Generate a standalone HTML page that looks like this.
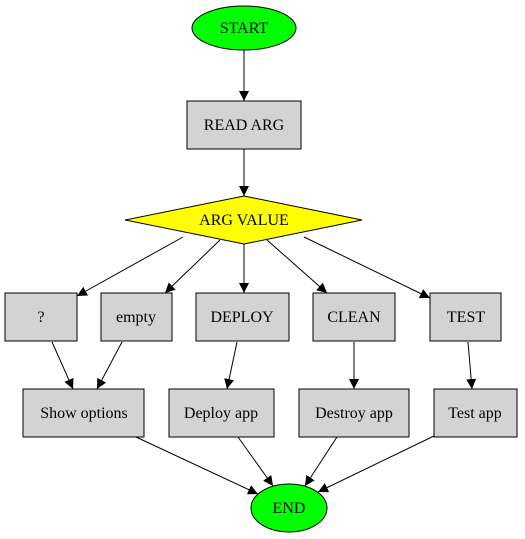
<!DOCTYPE html><html><head><style>body{margin:0;background:#fff}svg{display:block}text{font-family:"Liberation Serif",serif;font-size:16px;text-anchor:middle;fill:#000}</style></head><body>
<svg width="525" height="539" viewBox="0 0 525 539">
<defs><marker id="a" viewBox="0 0 10 10" refX="10" refY="5" markerWidth="10" markerHeight="10" markerUnits="userSpaceOnUse" orient="auto"><path d="M0,0L10,5L0,10z" fill="#000"/></marker></defs>
<g stroke="#000" stroke-width="1" fill="none" marker-end="url(#a)">
<line x1="244" y1="50" x2="244" y2="101"/>
<line x1="244" y1="149" x2="244" y2="196"/>
<line x1="183" y1="237" x2="77" y2="296"/>
<line x1="220" y1="240" x2="165" y2="293"/>
<line x1="244" y1="244" x2="244" y2="293"/>
<line x1="267" y1="240" x2="327" y2="293"/>
<line x1="304" y1="237" x2="430" y2="298"/>
<line x1="52" y1="342" x2="73" y2="389"/>
<line x1="122" y1="342" x2="97" y2="389"/>
<line x1="237" y1="342" x2="227" y2="389"/>
<line x1="354" y1="342" x2="354" y2="389"/>
<line x1="468" y1="342" x2="472" y2="389"/>
<line x1="136" y1="437" x2="258" y2="494"/>
<line x1="238" y1="437" x2="273" y2="486"/>
<line x1="337" y1="437" x2="305" y2="486"/>
<line x1="434" y1="436" x2="318" y2="492"/>
</g>
<g stroke="#000" stroke-width="1">
<ellipse cx="244" cy="28" rx="52" ry="22" fill="#00ff00"/>
<rect x="187" y="101" width="114" height="48" fill="#d3d3d3"/>
<polygon points="244,196 362,220 244,244 125,220" fill="#ffff00"/>
<rect x="5" y="293" width="72" height="48" fill="#d3d3d3"/>
<rect x="101" y="293" width="71" height="48" fill="#d3d3d3"/>
<rect x="196" y="293" width="93" height="48" fill="#d3d3d3"/>
<rect x="313" y="293" width="82" height="48" fill="#d3d3d3"/>
<rect x="430" y="293" width="71" height="48" fill="#d3d3d3"/>
<rect x="23" y="389" width="121" height="48" fill="#d3d3d3"/>
<rect x="169" y="389" width="105" height="48" fill="#d3d3d3"/>
<rect x="299" y="389" width="110" height="48" fill="#d3d3d3"/>
<rect x="434" y="389" width="83" height="48" fill="#d3d3d3"/>
<ellipse cx="289" cy="508" rx="38" ry="24" fill="#00ff00"/>
</g>
<text x="244" y="33">START</text>
<text x="244" y="130">READ ARG</text>
<text x="244" y="225">ARG VALUE</text>
<text x="41" y="322">?</text>
<text x="136" y="322">empty</text>
<text x="242" y="322">DEPLOY</text>
<text x="354" y="322">CLEAN</text>
<text x="466" y="322">TEST</text>
<text x="84" y="418">Show options</text>
<text x="221" y="418">Deploy app</text>
<text x="354" y="418">Destroy app</text>
<text x="475" y="418">Test app</text>
<text x="289" y="513">END</text>
</svg></body></html>
